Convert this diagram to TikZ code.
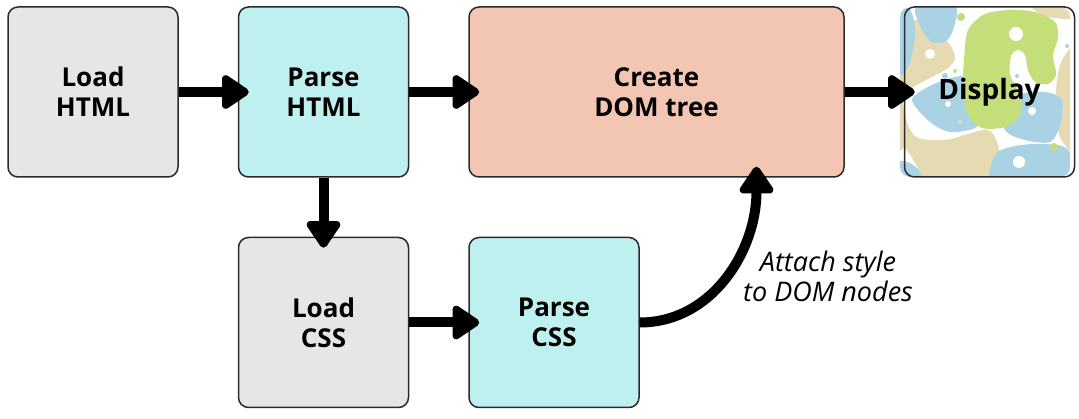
\documentclass[tikz,border=0pt]{standalone}
\usepackage{fontspec}
\setmainfont{Open Sans}
\usetikzlibrary{arrows.meta, positioning}

\definecolor{loadgray}{HTML}{E6E6E6}
\definecolor{parsecyan}{HTML}{BDF0EE}
\definecolor{domsalmon}{HTML}{F2C6B2}
\definecolor{blobblue}{HTML}{A9D3E5}
\definecolor{blobtan}{HTML}{E6DAB3}
\definecolor{blobgreen}{HTML}{C4DE7A}
\definecolor{edgegray}{HTML}{2B2B2B}

\begin{document}
\begin{tikzpicture}[x=1pt, y=-1pt, node distance=59pt,
  box/.style={draw=edgegray, line width=1.5pt, rounded corners=10pt,
    minimum width=170pt, minimum height=170pt, inner sep=0pt, align=center,
    font=\fontsize{26}{30}\selectfont\bfseries},
  flow/.style={line width=10pt, -{Triangle[length=30pt, width=38pt, round]},
    shorten >=-11pt}]
  \useasboundingbox (0,0) rectangle (1079,419);

  \node [box, fill=loadgray] (loadhtml) at (93,92) {Load\\HTML};
  \node [box, fill=parsecyan, right=of loadhtml] (parsehtml) {Parse\\HTML};
  \node [box, fill=domsalmon, minimum width=375pt, right=of parsehtml] (dom) {Create\\DOM tree};
  \node [box, fill=loadgray, below=of parsehtml] (loadcss) {Load\\CSS};
  \node [box, fill=parsecyan, right=of loadcss] (parsecss) {Parse\\CSS};

  % the display box and its pattern
  \begin{scope}
    \clip [rounded corners=10pt] (900,7) rectangle (1070,177);
    \fill [white] (900,7) rectangle (1070,177);
    \fill [blobtan] plot [smooth cycle] coordinates {(895,30) (915,20) (935,30) (950,45) (955,58) (948,68) (930,78) (912,88) (903,100) (908,125) (918,138) (945,140) (968,134) (988,130) (998,145) (1000,185) (925,185) (918,168) (905,148) (895,145)};
    \fill [blobtan] plot [smooth cycle] coordinates {(1030,2) (1078,2) (1075,18) (1055,18) (1040,14)};
    \fill [blobtan] plot [smooth cycle] coordinates {(1078,50) (1062,60) (1056,90) (1058,130) (1065,145) (1078,150)};
    \fill [blobblue] plot [smooth cycle] coordinates {(916,6) (955,6) (953,30) (945,42) (932,42) (922,30)};
    \fill [blobblue] plot [smooth cycle] coordinates {(895,8) (910,10) (915,30) (912,55) (905,72) (895,72)};
    \fill [blobblue] plot [smooth cycle] coordinates {(912,100) (930,86) (955,77) (978,76) (988,90) (985,115) (975,128) (950,132) (930,122)};
    \fill [blobblue] plot [smooth cycle] coordinates {(1000,100) (1020,94) (1045,92) (1062,100) (1060,125) (1050,142) (1025,140) (1005,130)};
    \fill [blobblue] plot [smooth cycle] coordinates {(995,155) (1015,146) (1045,144) (1068,150) (1075,185) (995,185)};
    \fill [blobblue] plot [smooth cycle] coordinates {(895,162) (910,163) (920,172) (922,185) (895,185)};
    \fill [blobgreen] plot [smooth cycle] coordinates {(964,60) (968,30) (985,14) (1010,10) (1035,12) (1055,22) (1058,38) (1053,55) (1056,75) (1048,84) (1035,82) (1028,70) (1025,55) (1018,50) (1011,56) (1010,75) (1020,95) (1020,115) (1005,127) (982,128) (968,115) (963,90)};
    \fill [white] (1016,34) circle [radius=7pt];
    \fill [white] (930,54) circle [radius=5pt];
    \fill [white] (948,104) circle [radius=3pt];
    \fill [white] (1032,111) circle [radius=4pt];
    \fill [white] (1019,162) circle [radius=6pt];
    \fill [blobgreen] (961,17) circle [radius=4pt];
    \fill [blobgreen] (1054,147) circle [radius=4pt];
    \fill [blobgreen] (955,71) circle [radius=2pt];
    \fill [blobblue] (1067,46) circle [radius=2pt];
    \fill [blobblue] (1017,76) circle [radius=2pt];
    \fill [blobblue] (945,76) circle [radius=3pt];
    \fill [blobblue] (1061,161) circle [radius=2pt];
    \fill [blobtan] (960,122) circle [radius=2pt];
  \end{scope}
  \node [box, font=\fontsize{28}{30}\selectfont\bfseries, right=of dom] (display) {Display};

  \draw [flow] (loadhtml) -- (parsehtml);
  \draw [flow] (parsehtml) -- (dom);
  \draw [flow] (dom) -- (display);
  \draw [flow] (parsehtml) -- (loadcss);
  \draw [flow] (loadcss) -- (parsecss);
  \draw [flow] (parsecss.east) to [out=0, in=-90] ([xshift=100pt]dom.south);
  \node [font=\fontsize{27}{30}\selectfont\itshape, align=center] (attach) at (828,276) {Attach style\\to DOM nodes};
\end{tikzpicture}
\end{document}
